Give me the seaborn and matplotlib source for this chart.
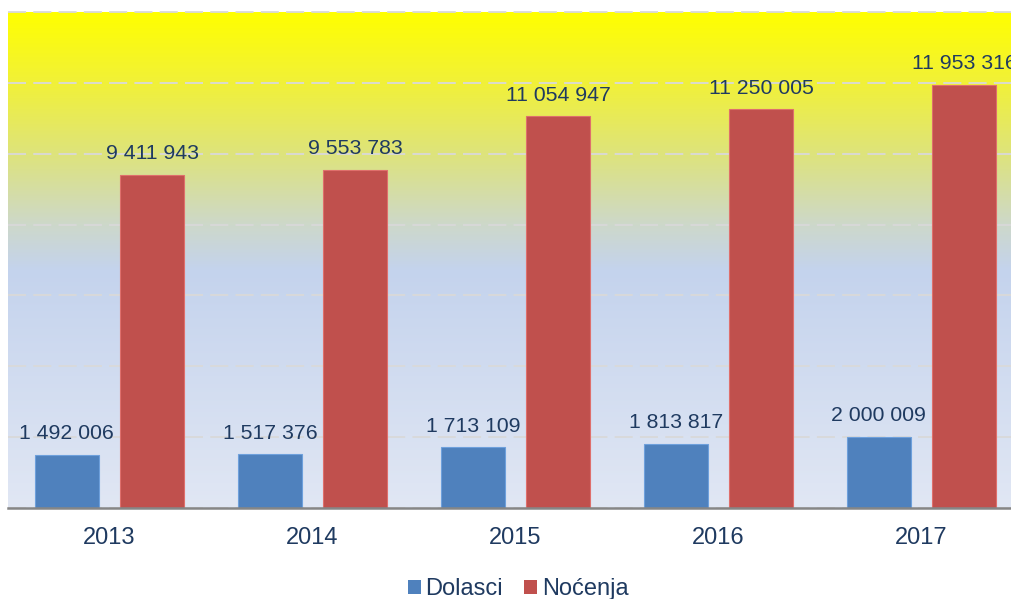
import numpy as np
import pandas as pd
import seaborn as sns
from matplotlib import pyplot as plt
from matplotlib.colors import LinearSegmentedColormap
from matplotlib.patches import Patch

years = ['2013', '2014', '2015', '2016', '2017']
series = ['Dolasci', 'Noćenja']
dolasci = [1492006, 1517376, 1713109, 1813817, 2000009]
nocenja = [9411943, 9553783, 11054947, 11250005, 11953316]
colors = ['#4f81bd', '#c0504d']
text_color = '#1f3a60'

sns.set_style('white')
plt.rcParams['font.family'] = ['Liberation Sans', 'DejaVu Sans']

df = pd.DataFrame({
    'year': years * 2,
    'series': [series[0]] * len(years) + [series[1]] * len(years),
    'value': dolasci + nocenja,
})

fig = plt.figure(figsize=(10.11, 5.99), dpi=100)
# plot area runs past the right edge of the picture, as in the original
ax = fig.add_axes([8 / 1011, 91 / 599, 1015 / 1011, 496 / 599])

# gradient background: light blue at the bottom, yellow at the top
cmap = LinearSegmentedColormap.from_list('bg', [
    (0.0, '#e1e7f4'),
    (0.48, '#c4d3ed'),
    (0.57, '#cdd8cb'),
    (0.71, '#dde37e'),
    (0.85, '#f0f03c'),
    (1.0, '#ffff00'),
])
grad = np.linspace(0, 1, 256).reshape(-1, 1)
ax.imshow(grad, extent=[-0.5, 4.5, 0, 14e6], aspect='auto', origin='lower',
          cmap=cmap, zorder=0)

sns.barplot(data=df, x='year', y='value', hue='series', palette=colors,
            saturation=1, width=0.84, gap=0.25, ax=ax, legend=False, zorder=2)

for patch in ax.patches:
    fc = patch.get_facecolor()
    edge = tuple(min(1, c + 0.12) for c in fc[:3])
    patch.set_edgecolor(edge)
    patch.set_linewidth(0.8)

for cont in ax.containers:
    labels = ['{:,}'.format(int(v)).replace(',', ' ') for v in cont.datavalues]
    ax.bar_label(cont, labels=labels, padding=8.4, fontsize=15.3, color=text_color)

ax.set_xlim(-0.5, 4.5)
ax.set_ylim(0, 14e6)
ax.set_yticks(np.arange(0, 14e6 + 1, 2e6))
ax.set_yticklabels([])
ax.tick_params(axis='y', length=0)
ax.set_axisbelow(True)
ax.yaxis.grid(True, color='#d9d9d9', linestyle=(0, (10, 4)), linewidth=1.3, zorder=1)
for gl in ax.yaxis.get_gridlines():
    gl.set_clip_on(False)
ax.xaxis.grid(False)

ax.set_xticks(range(len(years)))
ax.set_xticklabels(years, fontsize=17, color=text_color)
ax.set_xticks(np.arange(-0.5, len(years)), minor=True)
ax.tick_params(axis='x', which='major', length=0, pad=14)
ax.tick_params(axis='x', which='minor', length=4.5, width=1.5, color='#868686')
ax.set_xlabel('')
ax.set_ylabel('')

for side in ['top', 'right', 'left']:
    ax.spines[side].set_visible(False)
ax.spines['bottom'].set_color('#868686')
ax.spines['bottom'].set_linewidth(1.8)
ax.spines['bottom'].set_zorder(3)

handles = [Patch(facecolor=c, edgecolor='none') for c in colors]
fig.legend(handles, series, loc='center', bbox_to_anchor=(518 / 1011, 1 - 589 / 599),
           ncol=2, frameon=False, fontsize=17, labelcolor=text_color,
           handlelength=0.55, handleheight=0.55, handletextpad=0.2,
           columnspacing=0.9)

fig.savefig('out.png', dpi=100)
